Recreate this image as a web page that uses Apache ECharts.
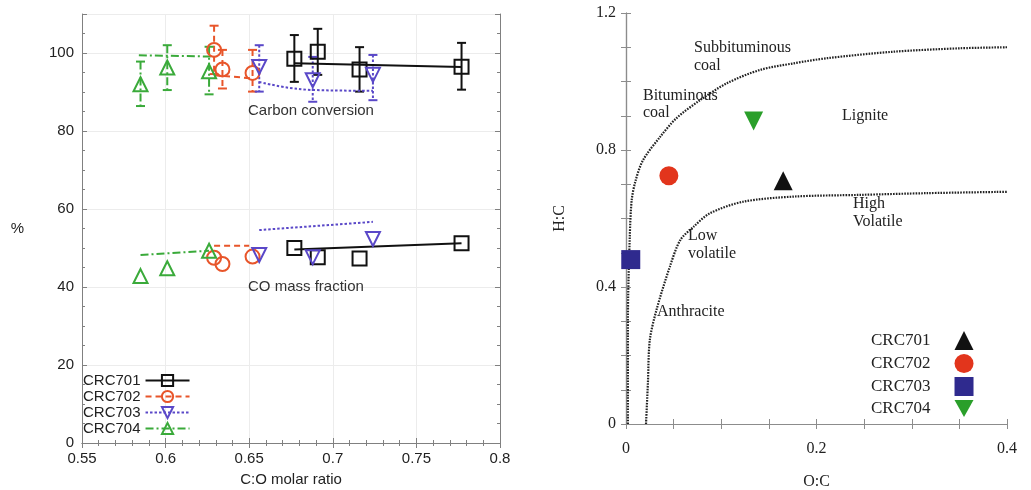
<!DOCTYPE html>
<html>
<head>
<meta charset="utf-8">
<script src="https://cdn.jsdelivr.net/npm/echarts@6/dist/echarts.min.js"></script>
<style>
  html, body { margin: 0; padding: 0; background: #ffffff; }
  #chart { width: 1031px; height: 490px; }
</style>
</head>
<body>
<div id="chart"></div>
<script>
// ---- left panel: C:O molar ratio vs % ----
const samples = ["CRC701", "CRC702", "CRC703", "CRC704"];

const ratio701 = [0.677, 0.691, 0.716, 0.777];
const carbon701 = [98.5, 100.3, 95.8, 96.5];
const carbonLo701 = [92.6, 94.4, 90.1, 90.6];
const carbonHi701 = [104.6, 106.2, 101.5, 102.6];
const co701 = [50.0, 47.6, 47.3, 51.2];
const carbonFit701 = [[0.677, 97.4], [0.777, 96.4]];
const coFit701 = [[0.677, 49.6], [0.777, 51.2]];

const ratio702 = [0.629, 0.634, 0.652];
const carbon702 = [100.8, 95.8, 94.9];
const carbonLo702 = [94.6, 90.9, 90.1];
const carbonHi702 = [107.0, 100.8, 100.8];
const co702 = [47.5, 45.9, 47.8];
const carbonFit702 = [[0.629, 94.3], [0.652, 93.5]];
const coFit702 = [[0.629, 50.6], [0.650, 50.6]];

const ratio703 = [0.656, 0.688, 0.724];
const carbon703 = [96.4, 93.0, 94.4];
const carbonLo703 = [90.1, 87.5, 87.9];
const carbonHi703 = [102.0, 99.0, 99.5];
const co703 = [48.2, 47.6, 52.3];
const carbonFit703 = [[0.656, 92.6], [0.689, 90.5], [0.724, 90.3]];
const coFit703 = [[0.656, 54.6], [0.724, 56.7]];

const ratio704 = [0.585, 0.601, 0.626];
const carbon704 = [92.0, 96.3, 95.3];
const carbonLo704 = [86.4, 90.5, 89.4];
const carbonHi704 = [97.8, 102.0, 101.6];
const co704 = [42.8, 44.8, 49.3];
const carbonFit704 = [[0.584, 99.4], [0.627, 99.1]];
const coFit704 = [[0.585, 48.2], [0.626, 49.3]];

// ---- right panel: van Krevelen ----
const ocRatio = [0.165, 0.045, 0.005, 0.134];
const hcRatio = [0.71, 0.725, 0.48, 0.885];

const upperOC = [0.002, 0.002, 0.004, 0.006, 0.010, 0.018, 0.036, 0.053, 0.078, 0.106, 0.141, 0.176, 0.211, 0.281, 0.351, 0.400];
const upperHC = [0.000, 0.300, 0.550, 0.654, 0.710, 0.771, 0.839, 0.893, 0.946, 0.995, 1.034, 1.053, 1.068, 1.087, 1.097, 1.100];
const lowerOC = [0.021, 0.023, 0.025, 0.032, 0.046, 0.057, 0.071, 0.088, 0.123, 0.176, 0.246, 0.316, 0.400];
const lowerHC = [0.000, 0.120, 0.245, 0.333, 0.459, 0.537, 0.576, 0.615, 0.649, 0.664, 0.669, 0.674, 0.678];

const zip = (a, b) => a.map((v, i) => [v, b[i]]);

const downTri = "path://M0,0L10,0L5,9Z";
const colors = ["#111111", "#e8552a", "#5a48c8", "#3aaa3a"];
const lineTypes = ["solid", [6, 4], [2.5, 2], [8, 3, 2, 3]];
const symbols = ["rect", "circle", downTri, "triangle"];

const sans = "Liberation Sans";
const serif = "Liberation Serif";

const chart = echarts.init(document.getElementById("chart"));

function errorBars(name, xs, lo, hi, color, dash) {
  return {
    name: name,
    type: "custom",
    xAxisIndex: 0,
    yAxisIndex: 0,
    silent: true,
    z: 2,
    data: xs.map((x, i) => [x, lo[i], hi[i]]),
    encode: { x: 0, y: [1, 2] },
    renderItem: function (params, api) {
      const top = api.coord([api.value(0), api.value(2)]);
      const bot = api.coord([api.value(0), api.value(1)]);
      const w = 4.5;
      const st = { stroke: color, lineWidth: 2 };
      return {
        type: "group",
        children: [
          { type: "line", shape: { x1: top[0], y1: top[1], x2: bot[0], y2: bot[1] },
            style: { stroke: color, lineWidth: 2, lineDash: dash === "solid" ? null : dash } },
          { type: "line", shape: { x1: top[0] - w, y1: top[1], x2: top[0] + w, y2: top[1] }, style: st },
          { type: "line", shape: { x1: bot[0] - w, y1: bot[1], x2: bot[0] + w, y2: bot[1] }, style: st }
        ]
      };
    }
  };
}

function sampleSeries(i, xs, carbon, lo, hi, co, carbonFit, coFit) {
  const name = samples[i];
  const c = colors[i];
  const hollow = { color: "rgba(255,255,255,0)", borderColor: c, borderWidth: 2, opacity: 1 };
  const line = { color: c, width: 2, type: lineTypes[i] };
  return [
    // legend entry only
    { name: name, type: "line", xAxisIndex: 0, yAxisIndex: 0, data: [],
      symbol: symbols[i], symbolSize: 14, itemStyle: hollow, lineStyle: line },
    errorBars(name + " err", xs, lo, hi, c, lineTypes[i]),
    { name: name + " carbon fit", type: "line", xAxisIndex: 0, yAxisIndex: 0, data: carbonFit,
      showSymbol: false, smooth: carbonFit.length > 2, lineStyle: line, silent: true, z: 2 },
    { name: name + " co fit", type: "line", xAxisIndex: 0, yAxisIndex: 0, data: coFit,
      showSymbol: false, lineStyle: line, silent: true, z: 2 },
    { name: name + " carbon", type: "scatter", xAxisIndex: 0, yAxisIndex: 0, data: zip(xs, carbon),
      symbol: symbols[i], symbolSize: 14, itemStyle: hollow, z: 3 },
    { name: name + " co", type: "scatter", xAxisIndex: 0, yAxisIndex: 0, data: zip(xs, co),
      symbol: symbols[i], symbolSize: 14, itemStyle: hollow, z: 3 }
  ];
}

const leftAxisLine = { show: true, lineStyle: { color: "#808080", width: 1 } };
const leftTick = { show: true, inside: true, length: 5, lineStyle: { color: "#808080" } };
const leftLabel = { color: "#222", fontFamily: sans, fontSize: 15, margin: 8 };
const leftSplit = { show: true, lineStyle: { color: "#ececec" } };

const rightAxisLine = { show: true, lineStyle: { color: "#8c8c8c", width: 1.2 } };
const rightTick = { show: true, inside: true, length: 5, lineStyle: { color: "#8c8c8c" } };
const rightMinor = { show: true, splitNumber: 4, length: 5, lineStyle: { color: "#8c8c8c" } };
const rightLabel = { color: "#222", fontFamily: serif, fontSize: 16 };

const rightNames = ["HC-CRC701", "HC-CRC702", "HC-CRC703", "HC-CRC704"];
const rightColors = ["#111111", "#e2351c", "#2f2a8e", "#2a9f2a"];
const rightSymbols = ["triangle", "circle", "rect", downTri];

const rightSeries = rightNames.map((n, i) => ({
  name: n,
  type: "scatter",
  xAxisIndex: 2,
  yAxisIndex: 2,
  data: [[ocRatio[i], hcRatio[i]]],
  symbol: rightSymbols[i],
  symbolSize: 19,
  itemStyle: { color: rightColors[i], opacity: 1 },
  z: 4
}));

const boundStyle = { color: "#222", width: 2.2, type: [1.6, 1.2] };

const leftText = (text, x, y) => ({
  type: "text", left: x, top: y, z: 100,
  style: { text: text, fill: "#333", font: "15px " + sans }
});
const rightText = (text, x, y) => ({
  type: "text", left: x, top: y, z: 100,
  style: { text: text, fill: "#222", font: "16px " + serif }
});

const option = {
  backgroundColor: "#ffffff",
  animation: false,
  grid: [
    { left: 82, top: 14, width: 418, height: 429, outerBoundsMode: "none", containLabel: false },
    { left: 626, top: 13, width: 381, height: 411, outerBoundsMode: "none", containLabel: false }
  ],
  legend: [
    {
      data: samples,
      orient: "vertical",
      left: 78,
      top: 368,
      align: "right",
      itemWidth: 44,
      itemHeight: 14,
      itemGap: 1,
      textStyle: { fontFamily: sans, fontSize: 15, color: "#222" },
      selectedMode: false
    },
    {
      data: rightNames,
      orient: "vertical",
      left: 866,
      top: 326,
      align: "right",
      itemWidth: 19,
      itemHeight: 19,
      itemGap: 4,
      formatter: n => n.replace("HC-", ""),
      textStyle: { fontFamily: serif, fontSize: 17, color: "#222", padding: [0, 19, 0, 0] },
      selectedMode: false
    }
  ],
  xAxis: [
    { gridIndex: 0, type: "value", position: "bottom", min: 0.55, max: 0.8, interval: 0.05,
      name: "C:O molar ratio", nameLocation: "middle", nameGap: 29,
      nameTextStyle: { fontFamily: sans, fontSize: 15, color: "#222" },
      axisLine: leftAxisLine, axisTick: leftTick,
      minorTick: { show: true, splitNumber: 5, length: 3, lineStyle: { color: "#808080" } },
      axisLabel: leftLabel, splitLine: leftSplit },
    { gridIndex: 0, type: "value", position: "top", min: 0.55, max: 0.8, interval: 0.05,
      axisLine: leftAxisLine, axisTick: leftTick,
      minorTick: { show: true, splitNumber: 5, length: 3, lineStyle: { color: "#808080" } },
      axisLabel: { show: false }, splitLine: { show: false } },
    { gridIndex: 1, type: "value", position: "bottom", min: 0, max: 0.4, interval: 0.2,
      name: "O:C", nameLocation: "middle", nameGap: 50,
      nameTextStyle: { fontFamily: serif, fontSize: 16, color: "#222" },
      axisLine: rightAxisLine, axisTick: rightTick, minorTick: rightMinor,
      axisLabel: Object.assign({ margin: 17 }, rightLabel), splitLine: { show: false } },
    { gridIndex: 1, type: "value", position: "top", min: 0, max: 0.4, interval: 0.2,
      axisLine: rightAxisLine, axisTick: rightTick, minorTick: rightMinor,
      axisLabel: { show: false }, splitLine: { show: false } }
  ],
  yAxis: [
    { gridIndex: 0, type: "value", position: "left", min: 0, max: 110, interval: 20,
      name: "%", nameLocation: "middle", nameRotate: 0, nameGap: 58,
      nameTextStyle: { fontFamily: sans, fontSize: 15, color: "#222" },
      axisLine: leftAxisLine, axisTick: leftTick,
      minorTick: { show: true, splitNumber: 4, length: 3, lineStyle: { color: "#808080" } },
      axisLabel: Object.assign({ showMaxLabel: false }, leftLabel), splitLine: leftSplit },
    { gridIndex: 0, type: "value", position: "right", min: 0, max: 110, interval: 20,
      axisLine: leftAxisLine, axisTick: leftTick,
      minorTick: { show: true, splitNumber: 4, length: 3, lineStyle: { color: "#808080" } },
      axisLabel: { show: false }, splitLine: { show: false } },
    { gridIndex: 1, type: "value", position: "left", min: 0, max: 1.2, interval: 0.4,
      name: "H:C", nameLocation: "middle", nameGap: 58,
      nameTextStyle: { fontFamily: serif, fontSize: 16, color: "#222" },
      axisLine: rightAxisLine, axisTick: rightTick, minorTick: rightMinor,
      axisLabel: Object.assign({ margin: 10 }, rightLabel), splitLine: { show: false } },
    { gridIndex: 1, type: "value", position: "right", min: 0, max: 1.2, interval: 0.4,
      axisLine: rightAxisLine, axisTick: rightTick, minorTick: rightMinor,
      axisLabel: { show: false }, splitLine: { show: false } }
  ],
  series: [].concat(
    sampleSeries(0, ratio701, carbon701, carbonLo701, carbonHi701, co701, carbonFit701, coFit701),
    sampleSeries(1, ratio702, carbon702, carbonLo702, carbonHi702, co702, carbonFit702, coFit702),
    sampleSeries(2, ratio703, carbon703, carbonLo703, carbonHi703, co703, carbonFit703, coFit703),
    sampleSeries(3, ratio704, carbon704, carbonLo704, carbonHi704, co704, carbonFit704, coFit704),
    [
      { name: "upper bound", type: "line", xAxisIndex: 2, yAxisIndex: 2, data: zip(upperOC, upperHC),
        showSymbol: false, smooth: 0.3, lineStyle: boundStyle, silent: true },
      { name: "lower bound", type: "line", xAxisIndex: 2, yAxisIndex: 2, data: zip(lowerOC, lowerHC),
        showSymbol: false, smooth: 0.3, lineStyle: boundStyle, silent: true }
    ],
    rightSeries
  ),
  graphic: [
    leftText("Carbon conversion", 248, 103),
    leftText("CO mass fraction", 248, 279),
    rightText("Subbituminous", 694, 40),
    rightText("coal", 694, 58),
    rightText("Bituminous", 643, 88),
    rightText("coal", 643, 105),
    rightText("Lignite", 842, 108),
    rightText("High", 853, 196),
    rightText("Volatile", 853, 214),
    rightText("Low", 688, 228),
    rightText("volatile", 688, 246),
    rightText("Anthracite", 657, 304)
  ]
};

chart.setOption(option);
</script>
</body>
</html>
